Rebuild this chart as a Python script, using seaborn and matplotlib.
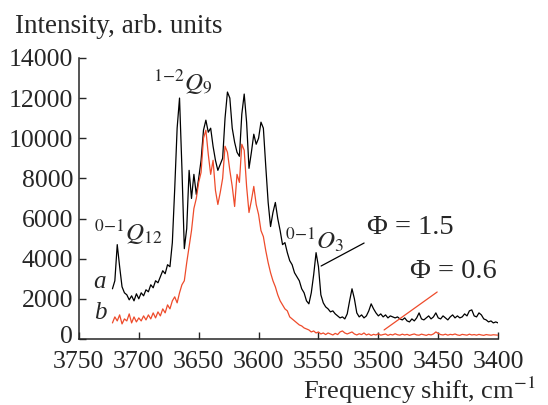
import numpy as np
import pandas as pd
import matplotlib
matplotlib.use("Agg")
import matplotlib.pyplot as plt
import matplotlib.transforms as mtransforms
import seaborn as sns

# frequency grid (cm^-1), read every 2 cm^-1
freq = list(range(3722, 3398, -2))

# spectrum a (Phi = 1.5), black
int_a = [2500, 2900, 4700, 3600, 2600, 2300, 2200, 1950, 2150, 1900,
         2250, 2000, 2300, 2150, 2450, 2350, 2700, 2550, 2900, 2800,
         3100, 3400, 3250, 3700, 3600, 4800, 7500, 10500, 12000, 8500,
         4500, 5500, 8400, 7000, 8200, 7200, 8000, 8900, 10400, 10900,
         10300, 10500, 9600, 8900, 8400, 8700, 9000, 11000, 12300, 12000,
         10500, 9800, 9300, 9100, 11200, 12200, 10800, 8500, 9300, 10200,
         9700, 10000, 10800, 10500, 8600, 6800, 5600, 6300, 6800, 6000,
         5400, 4700, 4800, 4300, 3900, 3700, 3300, 3100, 2900, 2500,
         2300, 1900, 1750, 2300, 3200, 4300, 3600, 2200, 1800, 1600,
         1500, 1350, 1400, 1250, 1150, 1050, 1100, 1000, 1250, 1900,
         2500, 2000, 1300, 1100, 1200, 1050, 1150, 1400, 1750, 1500,
         1300, 1150, 1250, 1100, 1200, 1050, 1150, 1100, 1050, 1100,
         1000, 950, 1050, 900, 850, 1000, 900, 1050, 1300, 1000,
         950, 1050, 1150, 1000, 1100, 1300, 1050, 1000, 1150, 1050,
         950, 1100, 1200, 1050, 1150, 1050, 1100, 1250, 1150, 1400,
         1450, 1150, 1100, 1300, 1200, 1000, 950, 850, 900, 800,
         850, 800]

# spectrum b (Phi = 0.6), red
int_b = [800, 1100, 900, 1200, 750, 1000, 900, 1250, 800, 1100,
         850, 1050, 900, 1150, 950, 1200, 1000, 1300, 1050, 1350,
         1150, 1500, 1300, 1700, 1500, 1900, 2100, 1800, 2300, 2700,
         2900, 3800, 4600, 5400, 6500, 7000, 7800, 8300, 10000, 10400,
         9200, 8200, 8900, 7400, 6700, 7300, 8000, 9600, 9300, 8400,
         7600, 6600, 8200, 7800, 9700, 9400, 7600, 6300, 6900, 7600,
         6700, 6200, 5400, 5100, 4400, 3800, 3300, 2900, 2600, 2200,
         1900, 1700, 1500, 1400, 1100, 1000, 900, 800, 700, 650,
         550, 500, 450, 350, 400, 300, 350, 250, 300, 220,
         300, 250, 200, 280, 220, 350, 400, 300, 250, 300,
         350, 250, 200, 260, 220, 300, 200, 250, 180, 230,
         200, 260, 190, 220, 250, 180, 230, 200, 260, 210,
         190, 240, 200, 230, 180, 220, 250, 200, 190, 240,
         210, 180, 230, 200, 250, 350, 280, 220, 200, 240,
         190, 230, 210, 250, 200, 180, 230, 210, 190, 240,
         200, 220, 190, 230, 200, 180, 220, 200, 190, 210,
         200, 190]

n = min(len(freq), len(int_a), len(int_b))
df = pd.DataFrame({
    "freq": freq[:n] * 2,
    "intensity": int_a[:n] + int_b[:n],
    "series": ["a"] * n + ["b"] * n,
})

sns.set_style("ticks")
plt.rcParams["font.family"] = ["Liberation Serif", "DejaVu Serif"]
plt.rcParams["mathtext.fontset"] = "stix"

fig = plt.figure(figsize=(5.48, 4.05), dpi=100)
ax = fig.add_axes([0.144, 0.163, 0.765, 0.694])

sns.lineplot(data=df, x="freq", y="intensity", hue="series",
             palette={"a": "black", "b": "#ee4b2b"}, ax=ax, legend=False,
             estimator=None, sort=False, linewidth=0.9)

ax.set_xlim(3750, 3400)
ax.set_ylim(0, 14000)
ax.set_xticks([3750, 3700, 3650, 3600, 3550, 3500, 3450, 3400])
ax.set_yticks(range(0, 14001, 2000))
ax.tick_params(direction="in", length=5, width=1.0, labelsize=18.5)
ax.tick_params(axis="x", pad=8.5)
ax.tick_params(axis="y", pad=4)
for s in ["top", "right"]:
    ax.spines[s].set_visible(False)
for s in ["left", "bottom"]:
    ax.spines[s].set_linewidth(1.1)
ax.set_xlabel("")
ax.set_ylabel("")

# lift the "0" label a touch so it clears the 3750 label
zero_lab = ax.yaxis.get_major_ticks()[0].label1
zero_lab.set_transform(zero_lab.get_transform()
                       + mtransforms.ScaledTranslation(0, 3 / 72, fig.dpi_scale_trans))

fig.text(0.027, 0.918, "Intensity, arb. units", fontsize=19.5, ha="left", va="baseline")
fig.text(0.977, 0.016, r"Frequency shift, cm$^{-1}$", fontsize=19, ha="right", va="baseline")

ax.text(3709, 5330, r"$^{0\!-\!1}Q_{12}$", fontsize=18, ha="center", va="center")
ax.text(3663, 12800, r"$^{1\!-\!2}Q_{9}$", fontsize=18, ha="center", va="center")
ax.text(3553, 4930, r"$^{0\!-\!1}O_{3}$", fontsize=18, ha="center", va="center")
ax.text(3473.5, 5530, "Φ = 1.5", fontsize=20.5, ha="center", va="center")
ax.text(3437.6, 3340, "Φ = 0.6", fontsize=20.5, ha="center", va="center")
ax.text(3732.5, 2840, "a", fontsize=18, style="italic", ha="center", va="center")
ax.text(3732.5, 1300, "b", fontsize=18, style="italic", ha="center", va="center")

ax.plot([3547.8, 3511.9], [3635, 4780], color="black", linewidth=0.9)
ax.plot([3495.2, 3450.9], [450, 2340], color="#ee4b2b", linewidth=0.9)

fig.savefig("out.png", dpi=100)
